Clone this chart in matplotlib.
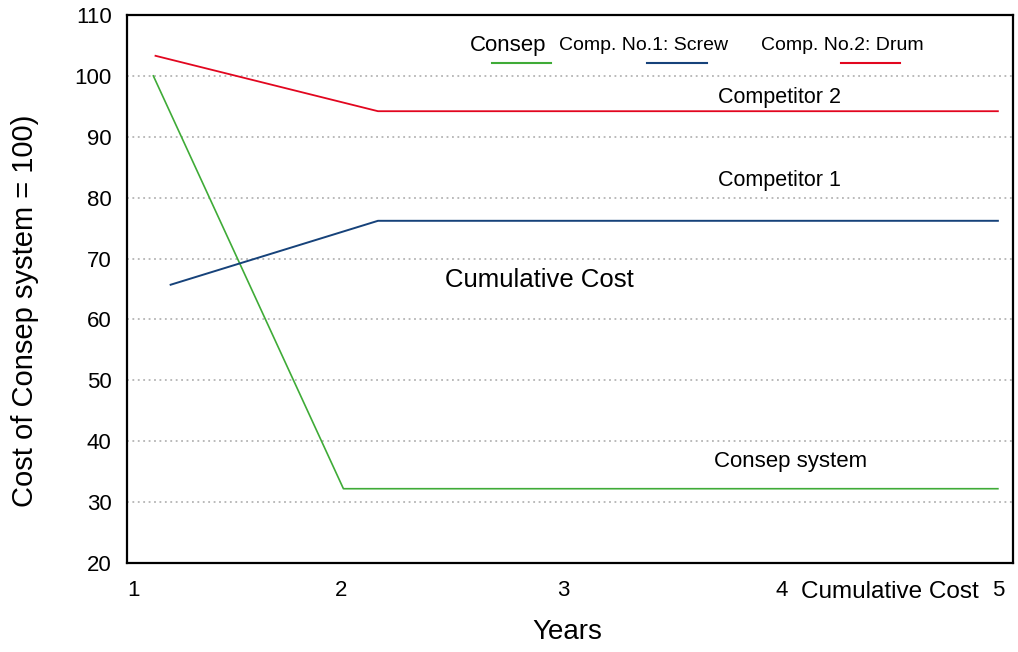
import matplotlib
matplotlib.use("Agg")
import matplotlib.pyplot as plt

plt.rcParams['font.family'] = ['Liberation Sans', 'DejaVu Sans']

# tick labels and their positions on the year axis
year_ticks = [1, 1.96, 2.99, 4.0, 5.0]
year_labels = ["1", "2", "3", "4", "5"]

# series (years, cost index)
consep_x = [1.09, 1.97, 5.0]
consep_y = [100, 32.2, 32.2]
comp1_x = [1.17, 2.13, 5.0]
comp1_y = [65.7, 76.2, 76.2]
comp2_x = [1.10, 2.13, 5.0]
comp2_y = [103.3, 94.2, 94.2]

green = "#3fab37"
blue = "#16427a"
red = "#e2061f"

W, H = 1018, 652
fig = plt.figure(figsize=(W / 100, H / 100), dpi=100)
L, R, T, B = 127, 1013, 15, 563
ax = fig.add_axes([L / W, 1 - B / H, (R - L) / W, (B - T) / H])

ax.plot(consep_x, consep_y, color=green, lw=1.2)
ax.plot(comp1_x, comp1_y, color=blue, lw=1.4)
ax.plot(comp2_x, comp2_y, color=red, lw=1.3)

ax.set_xlim(0.968, 5.07)
ax.set_ylim(20, 110)
ax.set_yticks(range(20, 111, 10))
ax.set_xticks(year_ticks)
ax.set_xticklabels(year_labels)
ax.tick_params(axis="x", length=0, pad=12, labelsize=16)
ax.tick_params(axis="y", length=0, pad=11, labelsize=16)
for s in ax.spines.values():
    s.set_linewidth(1.6)

# dotted grid
for v in range(30, 101, 10):
    ax.axhline(v, color="#b4b4b4", lw=1.3, ls=(0, (1, 2)), zorder=0)

# annotations
ax.text(3.99, 96.5, "Competitor 2", ha="center", va="center", fontsize=15.5)
ax.text(3.99, 82.8, "Competitor 1", ha="center", va="center", fontsize=15.5)
ax.text(4.04, 36.7, "Consep system", ha="center", va="center", fontsize=16)
ax.text(2.875, 66.5, "Cumulative Cost", ha="center", va="center", fontsize=18.5)

# legend row
def ax_xy(px, py):
    return (px - L) / (R - L), (B - py) / (B - T)

leg = [("Consep", 508, 492, 551, green, 16),
       ("Comp. No.1: Screw", 644, 647, 707, blue, 14),
       ("Comp. No.2: Drum", 842, 841, 900, red, 14)]
for label, cx, x0, x1, col, fs in leg:
    tx, ty = ax_xy(cx, 46)
    ax.text(tx, ty, label, transform=ax.transAxes, ha="center", va="center", fontsize=fs)
    a0, ly = ax_xy(x0, 62.5)
    a1, _ = ax_xy(x1, 62.5)
    ax.plot([a0, a1], [ly, ly], transform=ax.transAxes, color=col, lw=1.5, clip_on=False)

fig.text(890 / W, 1 - 592 / H, "Cumulative Cost", ha="center", va="center", fontsize=17.5)
fig.text(567 / W, 1 - 632 / H, "Years", ha="center", va="center", fontsize=20)
fig.text(25 / W, 1 - 311 / H, "Cost of Consep system = 100)", ha="center", va="center",
         rotation=90, fontsize=21)

plt.savefig("out.png", dpi=100)
